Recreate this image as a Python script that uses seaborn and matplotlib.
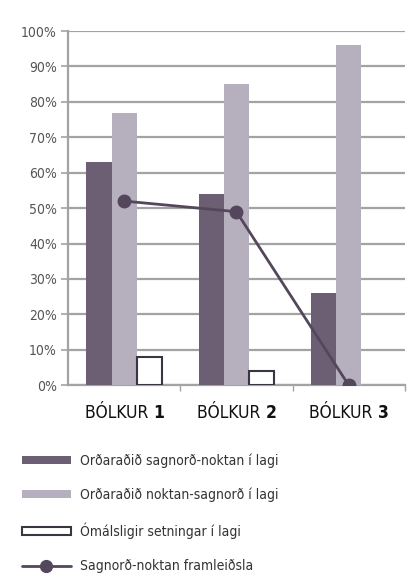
import pandas as pd
import matplotlib
matplotlib.use("Agg")
import matplotlib.pyplot as plt
import seaborn as sns
from matplotlib.patches import Patch
from matplotlib.lines import Line2D

# data
categories = ["BÓLKUR 1", "BÓLKUR 2", "BÓLKUR 3"]
group_nums = ["1", "2", "3"]
series_names = [
    "Orðaraðið sagnorð-noktan í lagi",
    "Orðaraðið noktan-sagnorð í lagi",
    "Ómálsligir setningar í lagi",
]
verb_first = [63, 54, 26]
noun_first = [77, 85, 96]
ungrammatical = [8, 4, 0]
line_name = "Sagnorð-noktan framleiðsla"
production = [52, 49, 0]

dark = "#6c5f74"
light = "#b6b0be"
edge = "#3d3442"
line_col = "#54475c"
grid_col = "#a3a3a3"

sns.set_style("white")
plt.rcParams["font.family"] = ["DejaVu Sans"]
plt.rcParams["font.stretch"] = "condensed"

df = pd.DataFrame({
    "cat": categories * 3,
    "series": [series_names[0]] * 3 + [series_names[1]] * 3 + [series_names[2]] * 3,
    "val": verb_first + noun_first + ungrammatical,
})

fig = plt.figure(figsize=(4.14, 5.75), dpi=100)
ax = fig.add_axes([0.164, 0.330, 0.814, 0.616])

sns.barplot(data=df, x="cat", y="val", hue="series", hue_order=series_names,
            palette=[dark, light, "white"], width=0.67, ax=ax, legend=False,
            saturation=1, zorder=3, edgecolor="none")
# outline the white bars
for p in ax.containers[2]:
    if p.get_height() > 0:
        p.set_edgecolor(edge)
        p.set_linewidth(1.5)

sns.pointplot(x=categories, y=production, color=line_col, markers="o",
              markersize=8.5, linewidth=2.0, ax=ax)
for l in ax.lines:
    l.set_zorder(5)
for c in ax.collections:
    c.set_zorder(6)

ax.set_ylim(0, 100)
ax.set_xlim(-0.5, 2.5)
ax.set_yticks(range(0, 101, 10))
ax.set_yticklabels([f"{v}%" for v in range(0, 101, 10)], fontsize=10, color="#555555")
ax.yaxis.grid(True, color=grid_col, linewidth=1.6, zorder=0)
ax.set_axisbelow(True)
ax.tick_params(axis="y", length=5, width=1.2, color=grid_col, pad=3, left=True)

ax.set_xticks([])
ax.set_xticks([0.5, 1.5, 2.5], minor=True)
ax.tick_params(axis="x", which="minor", length=4, width=1, color=grid_col, bottom=True)
ax.set_xlabel("")
ax.set_ylabel("")
for side in ["top", "right"]:
    ax.spines[side].set_visible(False)
ax.spines["left"].set_color(grid_col)
ax.spines["left"].set_linewidth(1.6)
ax.spines["bottom"].set_color(grid_col)
ax.spines["bottom"].set_linewidth(1.6)

# category labels: word regular, number bold
for i, num in enumerate(group_nums):
    x_fig = (0.164 + 0.814 * (i + 0.5) / 3) + 0.07
    fig.text(x_fig, 1 - 413 / 575, "BÓLKUR ", ha="right", va="center",
             fontsize=12.5, color="#111111")
    fig.text(x_fig, 1 - 413 / 575, num, ha="left", va="center",
             fontsize=12.5, fontweight="bold", color="#111111")

handles = [
    Patch(facecolor=dark, edgecolor="none"),
    Patch(facecolor=light, edgecolor="none"),
    Patch(facecolor="white", edgecolor=edge, linewidth=1.5),
    Line2D([0], [0], color=line_col, linewidth=2.0, marker="o", markersize=8.5),
]
fig.legend(handles, series_names + [line_name], loc="upper left",
           bbox_to_anchor=(0.053, 0.212), frameon=False, fontsize=10,
           handlelength=3.5, handleheight=0.5, handletextpad=0.7,
           labelspacing=1.45, borderpad=0, borderaxespad=0,
           labelcolor="#333333")

fig.savefig("out.png", dpi=100)
